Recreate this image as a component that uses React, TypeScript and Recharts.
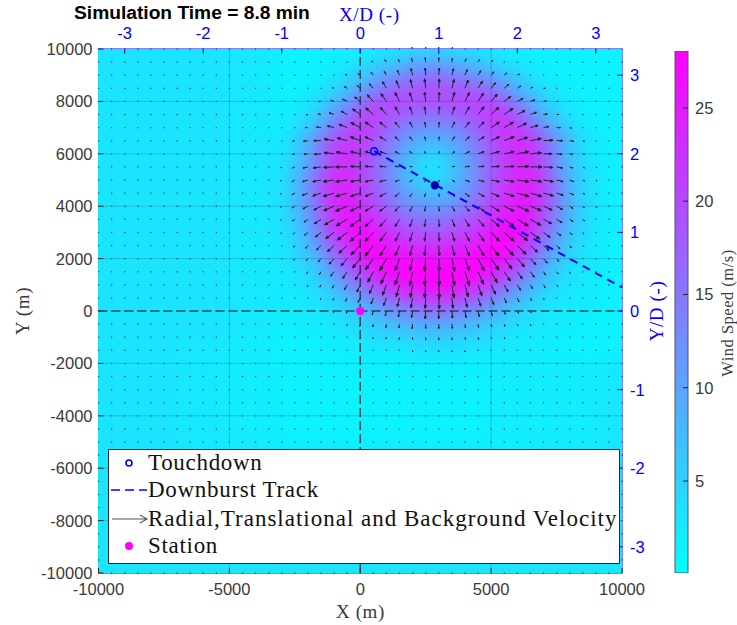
import React from 'react';
import {
  Bar,
  BarChart,
  CartesianGrid,
  Scatter,
  ScatterChart,
  XAxis,
  YAxis,
} from 'recharts';

// grid nodes of the quiver field (metres)
const gridNodes = [
  -10000, -9500, -9000, -8500, -8000, -7500, -7000, -6500, -6000, -5500, -5000, -4500, -4000, -3500,
  -3000, -2500, -2000, -1500, -1000, -500, 0, 500, 1000, 1500, 2000, 2500, 3000, 3500, 4000, 4500,
  5000, 5500, 6000, 6500, 7000, 7500, 8000, 8500, 9000, 9500, 10000,
];

// burst window: columns and rows where the velocity was read node by node
const burstX = [
  -3000, -2500, -2000, -1500, -1000, -500, 0, 500, 1000, 1500, 2000, 2500, 3000, 3500, 4000, 4500,
  5000, 5500, 6000, 6500, 7000, 7500, 8000, 8500, 9000, 9500, 10000,
];
const burstY = [
  10000, 9500, 9000, 8500, 8000, 7500, 7000, 6500, 6000, 5500, 5000, 4500, 4000, 3500, 3000, 2500,
  2000, 1500, 1000, 500, 0, -500, -1000, -1500,
];

// eastward velocity, one row per burstY
const burstU = [
  [0,0,0,0,-1,-1,-1,-1,-1,-1,-1,0,0,1,1,1,1,1,1,1,0,0,0,0,0,0,0],
  [0,0,0,-1,-1,-2,-2,-3,-3,-2,-2,-1,0,1,2,3,3,2,2,1,1,0,0,0,0,0,0],
  [0,-1,-1,-1,-2,-3,-4,-4,-4,-4,-3,-1,1,3,4,5,5,5,4,2,2,1,1,0,0,0,0],
  [0,-1,-1,-2,-3,-5,-6,-7,-7,-6,-4,-2,1,4,6,8,8,8,6,4,3,2,1,1,0,0,0],
  [-1,-1,-2,-4,-6,-8,-10,-11,-10,-8,-5,-2,1,5,8,10,11,12,10,8,5,3,2,1,0,0,0],
  [-1,-2,-3,-5,-9,-11,-14,-14,-11,-8,-5,-2,1,5,8,11,14,16,14,11,7,4,2,1,1,0,0],
  [-1,-2,-5,-8,-12,-15,-17,-15,-12,-8,-5,-2,1,5,8,11,15,17,17,14,10,7,4,2,1,0,0],
  [-2,-4,-8,-13,-18,-18,-18,-15,-12,-8,-5,-2,1,5,8,11,15,18,19,20,17,11,7,3,2,1,0],
  [-2,-4,-7,-12,-18,-20,-18,-15,-12,-8,-5,-2,1,5,8,11,15,18,21,20,15,10,5,3,1,1,0],
  [-2,-4,-9,-14,-19,-21,-18,-15,-12,-8,-5,-2,1,5,8,11,15,18,21,21,17,11,6,3,2,1,0],
  [-2,-5,-10,-15,-20,-21,-18,-15,-12,-8,-5,-2,1,5,8,11,15,18,21,21,18,12,7,3,2,1,0],
  [-2,-5,-10,-15,-20,-21,-18,-15,-12,-8,-5,-2,1,5,8,11,15,18,21,21,18,12,7,3,2,1,0],
  [-2,-5,-9,-13,-19,-21,-18,-15,-12,-8,-5,-2,1,5,8,11,15,18,21,20,16,11,6,3,2,1,0],
  [-2,-4,-7,-12,-17,-20,-18,-15,-12,-8,-5,-2,1,5,8,11,15,18,20,19,15,10,6,3,1,1,0],
  [-2,-3,-6,-10,-15,-18,-18,-15,-12,-8,-5,-2,1,5,8,11,15,18,19,17,12,8,4,2,1,1,0],
  [-1,-2,-4,-8,-12,-15,-17,-15,-12,-8,-5,-2,1,5,8,11,14,17,16,13,10,6,3,2,1,0,0],
  [-1,-2,-3,-5,-9,-11,-14,-14,-12,-8,-5,-2,1,5,8,11,14,14,13,10,7,4,2,1,1,0,0],
  [-1,-1,-2,-3,-6,-8,-9,-10,-10,-8,-5,-2,1,5,8,10,11,11,9,7,4,3,1,1,0,0,0],
  [0,-1,-1,-2,-3,-5,-6,-7,-7,-6,-4,-2,1,4,6,7,8,7,6,4,3,2,1,1,0,0,0],
  [0,0,-1,-1,-2,-3,-4,-4,-5,-4,-3,-1,1,2,4,5,5,4,3,2,1,1,0,0,0,0,0],
  [0,0,0,-1,-1,-1,-2,-2,-2,-2,-2,-1,0,1,2,2,2,2,2,1,1,0,0,0,0,0,0],
  [0,0,0,0,0,-1,-1,-1,-1,-1,-1,0,0,1,1,1,1,1,1,1,0,0,0,0,0,0,0],
  [0,0,0,0,0,0,0,-1,-1,-1,0,0,0,0,1,1,1,1,0,0,0,0,0,0,0,0,0],
  [0,0,0,0,0,0,0,0,0,0,0,0,0,0,0,0,0,0,0,0,0,0,0,0,0,0,0],
];

// northward velocity, one row per burstY
const burstV = [
  [-1,-1,-1,-1,-1,0,0,1,2,2,3,3,3,3,2,2,1,0,0,0,-1,-1,-1,-1,-1,-1,-1],
  [-1,-1,-1,-1,0,0,1,2,4,5,7,8,8,7,6,5,3,1,1,0,-1,-1,-1,-1,-1,-1,-1],
  [-1,-1,-1,-1,0,1,3,5,7,9,12,13,13,12,10,8,6,4,2,1,0,-1,-1,-1,-1,-1,-1],
  [-1,-1,-1,0,1,3,5,8,12,14,16,17,17,16,15,13,10,7,4,2,0,-1,-1,-1,-1,-1,-1],
  [-1,-1,-1,0,2,4,8,12,14,16,16,17,17,17,16,15,13,9,5,3,1,0,-1,-1,-1,-1,-1],
  [-1,-1,-1,1,3,6,10,12,13,14,14,14,14,14,14,14,13,11,7,4,1,0,-1,-1,-1,-1,-1],
  [-1,-1,0,1,3,6,9,10,10,10,10,10,10,10,10,10,10,10,8,4,2,0,-1,-1,-1,-1,-1],
  [-1,-1,-1,0,3,5,7,7,7,7,7,7,7,7,7,7,7,7,6,4,1,0,-1,-1,-1,-1,-1],
  [-1,-1,-1,-1,2,3,4,4,4,4,4,4,4,4,4,4,4,4,4,2,0,-1,-1,-1,-1,-1,-1],
  [-2,-2,-2,-2,-1,0,1,1,1,1,1,1,1,1,1,1,1,1,1,0,-1,-2,-2,-2,-2,-1,-1],
  [-2,-3,-3,-3,-3,-3,-3,-3,-3,-3,-3,-3,-3,-3,-3,-3,-3,-3,-3,-3,-3,-3,-3,-2,-2,-1,-1],
  [-2,-3,-4,-5,-6,-6,-6,-6,-6,-6,-6,-6,-6,-6,-6,-6,-6,-6,-6,-6,-5,-4,-3,-2,-2,-1,-1],
  [-2,-3,-5,-7,-8,-9,-9,-9,-9,-9,-9,-9,-9,-9,-9,-9,-9,-9,-9,-8,-7,-6,-4,-3,-2,-1,-1],
  [-2,-3,-5,-8,-10,-12,-13,-13,-13,-13,-13,-13,-13,-13,-13,-13,-13,-13,-12,-11,-8,-6,-4,-3,-2,-2,-1],
  [-2,-3,-5,-8,-11,-14,-16,-16,-16,-16,-16,-16,-16,-16,-16,-16,-16,-16,-15,-12,-9,-6,-4,-3,-2,-1,-1],
  [-2,-3,-5,-8,-11,-14,-17,-19,-19,-19,-19,-19,-19,-19,-19,-19,-19,-18,-16,-12,-9,-6,-4,-2,-2,-1,-1],
  [-2,-3,-4,-6,-10,-13,-17,-20,-22,-22,-22,-23,-23,-23,-22,-22,-21,-19,-15,-11,-8,-5,-3,-2,-2,-1,-1],
  [-2,-2,-3,-5,-8,-12,-15,-19,-22,-24,-25,-25,-25,-25,-25,-23,-20,-17,-13,-10,-6,-4,-3,-2,-2,-1,-1],
  [-2,-2,-3,-4,-6,-9,-13,-16,-19,-22,-23,-24,-25,-24,-22,-20,-17,-13,-10,-7,-5,-3,-2,-2,-2,-1,-1],
  [-2,-2,-2,-3,-4,-6,-8,-11,-14,-16,-18,-19,-20,-19,-17,-15,-12,-9,-7,-5,-3,-2,-2,-2,-2,-1,-1],
  [-2,-2,-2,-2,-3,-4,-5,-7,-9,-11,-12,-14,-14,-13,-12,-10,-8,-6,-4,-3,-2,-2,-2,-2,-1,-1,-1],
  [-1,-2,-2,-2,-2,-3,-4,-5,-6,-7,-8,-8,-8,-8,-7,-6,-5,-4,-3,-3,-2,-2,-2,-1,-1,-1,-1],
  [-1,-1,-1,-2,-2,-2,-3,-3,-3,-4,-4,-5,-5,-5,-4,-4,-3,-3,-2,-2,-2,-2,-1,-1,-1,-1,-1],
  [-1,-1,-1,-1,-1,-2,-2,-2,-2,-2,-3,-3,-3,-3,-3,-2,-2,-2,-2,-2,-1,-1,-1,-1,-1,-1,-1],
];

// background wind speed away from the burst, every 2000 m
const backgroundX = [-10000, -8000, -6000, -4000, -2000, 0, 2000, 4000, 6000, 8000, 10000];
const backgroundY = [10000, 8000, 6000, 4000, 2000, 0, -2000, -4000, -6000, -8000, -10000];
const backgroundSpeed = [
  [3, 3, 3, 2.5, 2, 2, 2, 2, 2, 2, 2],
  [3, 3, 3, 2.5, 2, 2, 2, 2, 2, 2, 2],
  [3, 3, 3, 2.5, 2, 2, 2, 2, 2, 2, 2],
  [3, 3, 3, 2.5, 2, 2, 2, 2, 2, 2, 2],
  [3, 3, 3, 2.5, 2, 2, 2, 2, 2, 2, 2],
  [3, 3, 3, 2.5, 2, 2, 2, 2, 2, 2, 2],
  [3, 3, 2.5, 2, 1.5, 1.5, 1.5, 1.5, 2, 2, 2.5],
  [3, 3, 2.5, 2, 1.5, 1.5, 1.5, 1.5, 2, 2, 2.5],
  [3, 3, 2.5, 2.5, 2, 2, 2, 2, 2, 2.5, 2.5],
  [3, 3, 3, 2.5, 2.5, 2.5, 2.5, 2.5, 2.5, 2.5, 3],
  [3, 3, 3, 3, 3, 3, 3, 3, 3, 3, 3],
];
const farDrift = { u: 0, v: -2 };

const trackX = [530, 10000];
const trackY = [6100, 900];

const xTicks = [-10000, -5000, 0, 5000, 10000];
const yTicks = [-10000, -8000, -6000, -4000, -2000, 0, 2000, 4000, 6000, 8000, 10000];
const normTicks = [-3, -2, -1, 0, 1, 2, 3];
const speedTicks = [5, 10, 15, 20, 25];
const speedRange = [0.07, 28.05];
const axisSpan = [-10000, 10000];

const CHART_W = 737;
const CHART_H = 625;
const PX_PER_M = 524 / 20000;
const ARROW_PX = 0.55; // px per table unit
const QUIVER_TO_SPEED = 1.15;
const BLUE = '#0000ff';
const DARK = '#262626';
const TEXT = '#3a3a3a';
const SANS = '"Liberation Sans", Arial, sans-serif';
const SERIF = '"Liberation Serif", "Times New Roman", serif';

const coolColor = (speed: number) => {
  const t = Math.min(1, Math.max(0, (speed - speedRange[0]) / (speedRange[1] - speedRange[0])));
  return `rgb(${Math.round(255 * t)},${Math.round(255 * (1 - t))},255)`;
};

const burstCells = burstY.flatMap((y, r) =>
  burstX.map((x, c) => ({
    x,
    y,
    speed: Math.max(1.5, Math.hypot(burstU[r][c], burstV[r][c]) * QUIVER_TO_SPEED),
  })),
);
const backgroundCells = backgroundY.flatMap((y, r) =>
  backgroundX.map((x, c) => ({ x, y, speed: backgroundSpeed[r][c] })),
);
const quiverPoints = gridNodes.flatMap((y) =>
  gridNodes.map((x) => {
    const c = burstX.indexOf(x);
    const r = burstY.indexOf(y);
    return c >= 0 && r >= 0
      ? { x, y, u: burstU[r][c], v: burstV[r][c] }
      : { x, y, u: farDrift.u, v: farDrift.v };
  }),
);
const trackPoints = trackX.map((x, i) => ({ x, y: trackY[i] }));
const speedBar = [{ name: 'Wind Speed', value: speedRange[1] }];

const guideLine = (v: number) =>
  v === 0
    ? { stroke: '#10302f', strokeOpacity: 0.8, strokeWidth: 1.5, strokeDasharray: '9 4' }
    : { stroke: '#000', strokeOpacity: 0.17, strokeWidth: 1 };

// heat cell, blurred together by the filter on the layer
const HeatCell = (metres: number) => (props: any) => {
  const size = metres * PX_PER_M + 1;
  return (
    <rect
      x={props.cx - size / 2}
      y={props.cy - size / 2}
      width={size}
      height={size}
      fill={coolColor(props.payload.speed)}
    />
  );
};

const QuiverArrow = (props: any) => {
  const { cx, cy, payload } = props;
  const dx = payload.u * ARROW_PX;
  const dy = -payload.v * ARROW_PX;
  const len = Math.hypot(dx, dy);
  if (len < 1.5) {
    return <rect x={cx - 0.6} y={cy - 0.6} width={1.3} height={1.3} fill="#2a2a3a" opacity={0.75} />;
  }
  const tipX = cx + dx;
  const tipY = cy + dy;
  const a = Math.atan2(dy, dx);
  const head = len * 0.3;
  const path =
    `M${cx},${cy}L${tipX},${tipY}` +
    `M${tipX - head * Math.cos(a - 0.4)},${tipY - head * Math.sin(a - 0.4)}L${tipX},${tipY}` +
    `L${tipX - head * Math.cos(a + 0.4)},${tipY - head * Math.sin(a + 0.4)}Z`;
  return <path d={path} fill="#20202c" stroke="#20202c" strokeWidth={1} />;
};

const Marker = (fill: string, r: number, stroke = 'none') => (props: any) => (
  <circle cx={props.cx} cy={props.cy} r={r} fill={fill} stroke={stroke} strokeWidth={1.6} />
);
const NoShape = () => <g />;

// MATLAB style ticks: they point into the plot, labels sit outside
const AxisTick = (side: 'left' | 'bottom' | 'top' | 'right' | 'bar', color: string, textColor = color) => (props: any) => {
  const { x, y, payload } = props;
  const label = String(payload.value);
  const font = { fontSize: 16.5, fontFamily: SANS, fill: textColor };
  if (side === 'left') {
    return (
      <g>
        <line x1={x} x2={x + 5} y1={y} y2={y} stroke={color} />
        <text x={x - 6} y={y + 6} textAnchor="end" {...font}>{label}</text>
      </g>
    );
  }
  if (side === 'bottom') {
    return (
      <g>
        <line x1={x} x2={x} y1={y} y2={y - 5} stroke={color} />
        <text x={x} y={y + 22} textAnchor="middle" {...font}>{label}</text>
      </g>
    );
  }
  if (side === 'top') {
    return (
      <g>
        <line x1={x} x2={x} y1={y} y2={y + 5} stroke={color} />
        <text x={x} y={y - 10} textAnchor="middle" {...font}>{label}</text>
      </g>
    );
  }
  return (
    <g>
      <line x1={x} x2={x - 5} y1={y} y2={y} stroke={color} />
      <text x={x + (side === 'bar' ? 7 : 8)} y={y + 6} textAnchor="start" {...font}>{label}</text>
    </g>
  );
};

const legendRows = [
  { label: 'Touchdown', top: 448, kind: 'touchdown', spacing: 0.7 },
  { label: 'Downburst Track', top: 475, kind: 'track', spacing: 0.7 },
  { label: 'Radial,Translational and Background Velocity', top: 504, kind: 'arrow', spacing: 1.0 },
  { label: 'Station', top: 531, kind: 'station', spacing: 0.7 },
];

const LegendGlyph = ({ kind }: { kind: string }) => (
  <svg width={40} height={20} style={{ position: 'absolute', left: 2, top: 5 }}>
    {kind === 'touchdown' && <circle cx={18} cy={10} r={3} fill="none" stroke={BLUE} strokeWidth={1.6} />}
    {kind === 'track' && <line x1={0} x2={36} y1={10} y2={10} stroke={BLUE} strokeWidth={1.6} strokeDasharray="9 5" />}
    {kind === 'arrow' && <path d="M1,10H36M29,6L36,10L29,14" fill="none" stroke="#555" strokeWidth={1.1} />}
    {kind === 'station' && <circle cx={18} cy={10} r={4} fill="#ff00ff" />}
  </svg>
);

const rotated = (left: number, top: number, size: number, color: string, spacing: number): React.CSSProperties => ({
  position: 'absolute',
  left,
  top,
  font: `${size}px ${SERIF}`,
  letterSpacing: spacing,
  color,
  whiteSpace: 'nowrap',
  transform: 'translate(-50%,-50%) rotate(-90deg)',
});

const App = () => (
  <div style={{ position: 'absolute', left: 0, top: 0, width: CHART_W, height: CHART_H, background: '#fff' }}>
    <style>{'.heat-layer{filter:url(#heatBlur)}'}</style>
    <svg width={0} height={0} style={{ position: 'absolute' }}>
      <defs>
        <filter id="heatBlur" filterUnits="userSpaceOnUse" x={98} y={49} width={524} height={524} colorInterpolationFilters="sRGB">
          <feGaussianBlur stdDeviation={9} />
        </filter>
        <linearGradient id="coolBar" x1="0" y1="0" x2="0" y2="1">
          <stop offset="0%" stopColor="#ff00ff" />
          <stop offset="100%" stopColor="#00ffff" />
        </linearGradient>
      </defs>
    </svg>

    <div style={{ position: 'absolute', left: 0, top: 0 }}>
      <ScatterChart width={CHART_W} height={CHART_H} margin={{ top: 29, left: 38.5, right: 85, bottom: 22 }}>
        <CartesianGrid horizontal={false} vertical={false} fill="#18e8ff" xAxisId="x" yAxisId="y" />
        <XAxis
          xAxisId="x"
          dataKey="x"
          type="number"
          domain={axisSpan}
          ticks={xTicks}
          interval={0}
          height={30}
          stroke={DARK}
          tickSize={0}
          tickMargin={0}
          tickLine={false}
          tick={AxisTick('bottom', DARK, TEXT)}
        />
        <XAxis
          xAxisId="xNorm"
          dataKey="x"
          type="number"
          orientation="top"
          domain={[-10 / 3, 10 / 3]}
          allowDataOverflow
          ticks={normTicks}
          interval={0}
          height={20}
          stroke={BLUE}
          tickSize={0}
          tickMargin={0}
          tickLine={false}
          tick={AxisTick('top', BLUE)}
        />
        <YAxis
          yAxisId="y"
          dataKey="y"
          type="number"
          domain={axisSpan}
          ticks={yTicks}
          interval={0}
          width={60}
          stroke={DARK}
          tickSize={0}
          tickMargin={0}
          tickLine={false}
          tick={AxisTick('left', DARK, TEXT)}
        />
        <YAxis
          yAxisId="yNorm"
          dataKey="y"
          type="number"
          orientation="right"
          domain={[-10 / 3, 10 / 3]}
          allowDataOverflow
          ticks={normTicks}
          interval={0}
          width={30}
          stroke={BLUE}
          tickSize={0}
          tickMargin={0}
          tickLine={false}
          tick={AxisTick('right', BLUE)}
        />

        <Scatter className="heat-layer" xAxisId="x" yAxisId="y" data={backgroundCells} shape={HeatCell(2000)} isAnimationActive={false} />
        <Scatter className="heat-layer" xAxisId="x" yAxisId="y" data={burstCells} shape={HeatCell(500)} isAnimationActive={false} />

        {xTicks.slice(1, -1).map((v) => (
          <Scatter
            key={`gx${v}`}
            xAxisId="x"
            yAxisId="y"
            data={axisSpan.map((y) => ({ x: v, y }))}
            line={guideLine(v)}
            shape={NoShape}
            isAnimationActive={false}
          />
        ))}
        {yTicks.slice(1, -1).map((v) => (
          <Scatter
            key={`gy${v}`}
            xAxisId="x"
            yAxisId="y"
            data={axisSpan.map((x) => ({ x, y: v }))}
            line={guideLine(v)}
            shape={NoShape}
            isAnimationActive={false}
          />
        ))}

        <Scatter xAxisId="x" yAxisId="y" data={quiverPoints} shape={QuiverArrow} isAnimationActive={false} />
        <Scatter
          xAxisId="x"
          yAxisId="y"
          data={trackPoints}
          line={{ stroke: BLUE, strokeWidth: 2, strokeDasharray: '8 6' }}
          shape={NoShape}
          isAnimationActive={false}
        />
        <Scatter xAxisId="x" yAxisId="y" data={[trackPoints[0]]} shape={Marker('none', 3.5, BLUE)} isAnimationActive={false} />
        <Scatter xAxisId="x" yAxisId="y" data={[{ x: 2850, y: 4800 }]} shape={Marker('#0000b0', 4.2)} isAnimationActive={false} />
        <Scatter xAxisId="x" yAxisId="y" data={[{ x: 0, y: 0 }]} shape={Marker('#ff00ff', 4.2)} isAnimationActive={false} />
      </ScatterChart>
    </div>

    <div style={{ position: 'absolute', left: 660, top: 0 }}>
      <BarChart width={77} height={CHART_H} data={speedBar} margin={{ top: 51, left: 15, right: 19, bottom: 52 }} barCategoryGap={0}>
        <XAxis dataKey="name" hide />
        <YAxis
          orientation="right"
          type="number"
          domain={speedRange}
          allowDataOverflow
          ticks={speedTicks}
          interval={0}
          width={30}
          axisLine={false}
          tickSize={0}
          tickMargin={0}
          tickLine={false}
          tick={AxisTick('bar', DARK, TEXT)}
        />
        <Bar dataKey="value" fill="url(#coolBar)" stroke="#555" strokeWidth={1} isAnimationActive={false} />
      </BarChart>
    </div>

    <div style={{ position: 'absolute', left: 74, top: 2, font: `bold 19.2px ${SANS}`, color: '#000', whiteSpace: 'nowrap' }}>
      Simulation Time = 8.8 min
    </div>
    <div style={{ position: 'absolute', left: 339, top: 4, font: `19px ${SERIF}`, letterSpacing: 0.6, color: BLUE, whiteSpace: 'nowrap' }}>X/D (-)</div>
    <div style={{ position: 'absolute', left: 336, top: 601, font: `19px ${SERIF}`, letterSpacing: 0.6, color: TEXT, whiteSpace: 'nowrap' }}>X (m)</div>
    <div style={rotated(657, 311, 19, BLUE, 0.6)}>Y/D (-)</div>
    <div style={rotated(23, 311, 19, TEXT, 0.6)}>Y (m)</div>
    <div style={rotated(728, 313, 16.5, TEXT, 0.5)}>Wind Speed (m/s)</div>

    <div style={{ position: 'absolute', left: 108, top: 449, width: 510, height: 113, background: '#fff', border: `1px solid ${DARK}` }} />
    {legendRows.map((row) => (
      <div key={row.label} style={{ position: 'absolute', left: 109, top: row.top, whiteSpace: 'nowrap' }}>
        <LegendGlyph kind={row.kind} />
        <span style={{ position: 'absolute', left: 39, top: 2, font: `23px ${SERIF}`, color: '#111', letterSpacing: row.spacing }}>{row.label}</span>
      </div>
    ))}
  </div>
);

export default App;
